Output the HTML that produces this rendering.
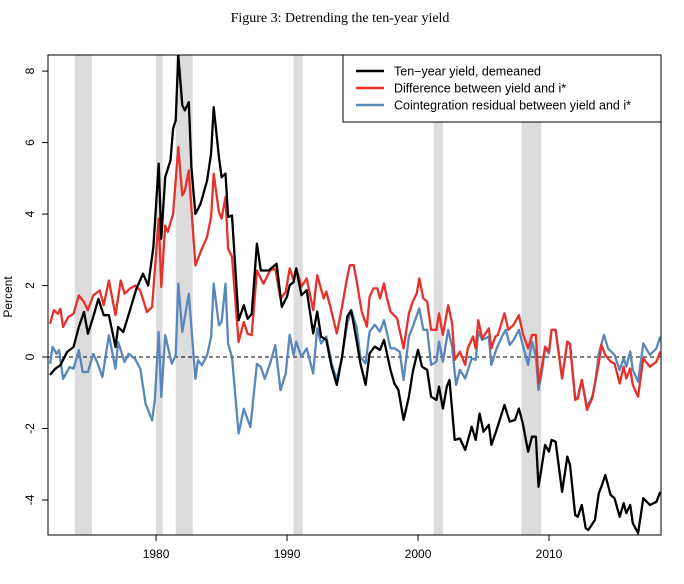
<!DOCTYPE html>
<html><head><meta charset="utf-8"><style>
body{margin:0;background:#fff;width:684px;height:579px;overflow:hidden}
svg text{font-family:"Liberation Sans",sans-serif}
</style></head><body>
<svg id="chart" width="684" height="579" xmlns="http://www.w3.org/2000/svg">
<text x="340" y="22" text-anchor="middle" font-size="14" style="font-family:'Liberation Serif',serif">Figure 3: Detrending the ten-year yield</text>
<text transform="translate(12,297) rotate(-90)" text-anchor="middle" font-size="12">Percent</text>
<defs><clipPath id="pc"><rect x="48" y="55" width="613" height="480"/></clipPath></defs>
<g id="rec" clip-path="url(#pc)"></g>
<g id="zero"></g>
<g id="lines" clip-path="url(#pc)"></g>
<rect x="48" y="55" width="613" height="480" fill="none" stroke="#000" stroke-width="1"/>
<g id="axes"></g>
<g>
<rect x="343" y="55" width="318" height="67" fill="#fff" stroke="#000" stroke-width="1"/>
<line x1="356" x2="384" y1="71" y2="71" stroke="#000" stroke-width="2.5"/>
<text x="394" y="75.5" font-size="12.5">Ten−year yield, demeaned</text>
<line x1="356" x2="384" y1="88" y2="88" stroke="#e8302a" stroke-width="2.5"/>
<text x="394" y="92.5" font-size="12.5">Difference between yield and i*</text>
<line x1="356" x2="384" y1="105" y2="105" stroke="#5a87bb" stroke-width="2.5"/>
<text x="394" y="109.5" font-size="12.5">Cointegration residual between yield and i*</text>
</g>
</svg>
<script>
const xTicks=[1980,1990,2000,2010];
const yTicks=[-4,-2,0,2,4,6,8];
const recStart=[1973.8,1980.0,1981.5,1990.5,2001.2,2007.9];
const recEnd=[1975.1,1980.5,1982.8,1991.2,2001.9,2009.4];
const blackYears=[1971.9,1972.3,1972.7,1973.2,1973.7,1974.1,1974.5,1974.8,1975.2,1975.6,1976.0,1976.4,1976.9,1977.1,1977.5,1978.0,1978.5,1979.0,1979.4,1979.8,1980.2,1980.4,1980.7,1981.1,1981.3,1981.5,1981.7,1982.0,1982.2,1982.5,1982.7,1983.0,1983.4,1983.9,1984.2,1984.4,1984.8,1985.0,1985.3,1985.5,1985.8,1986.3,1986.7,1987.0,1987.3,1987.7,1988.0,1988.6,1989.2,1989.6,1990.0,1990.2,1990.5,1990.7,1991.1,1991.5,1992.0,1992.3,1992.6,1993.0,1993.4,1993.8,1994.2,1994.6,1994.9,1995.3,1995.6,1996.0,1996.3,1996.7,1997.1,1997.4,1997.9,1998.2,1998.5,1998.9,1999.3,1999.6,2000.0,2000.3,2000.7,2001.0,2001.4,2001.6,2001.9,2002.2,2002.4,2002.8,2003.2,2003.6,2004.1,2004.4,2004.7,2005.0,2005.4,2005.6,2006.0,2006.6,2007.0,2007.4,2007.7,2008.0,2008.4,2008.7,2009.0,2009.2,2009.4,2009.7,2010.0,2010.2,2010.5,2011.0,2011.4,2011.6,2012.0,2012.2,2012.5,2012.8,2013.0,2013.5,2013.8,2014.0,2014.3,2014.7,2015.0,2015.4,2015.7,2015.9,2016.2,2016.4,2016.8,2017.2,2017.7,2018.2,2018.5];
const blackValues=[-0.5,-0.33,-0.23,0.14,0.28,0.84,1.26,0.65,1.12,1.63,1.17,1.17,0.28,0.84,0.7,1.3,1.91,2.33,2.0,3.08,5.41,3.31,5.03,5.5,6.39,6.62,8.44,7.04,6.9,7.13,5.31,4.0,4.29,4.94,5.69,6.99,5.6,5.03,5.13,3.92,3.96,1.03,1.45,1.07,1.21,3.17,2.42,2.42,2.61,1.4,1.69,2.01,2.1,2.48,1.73,1.87,0.66,1.27,0.57,0.48,-0.27,-0.78,0.01,1.13,1.31,0.48,-0.18,-0.78,0.1,0.29,0.2,0.48,-0.36,-0.74,-0.92,-1.76,-1.11,-0.41,0.2,-0.27,-0.36,-1.11,-1.2,-0.83,-1.44,-0.83,-0.64,-2.32,-2.28,-2.6,-1.95,-2.32,-1.58,-2.09,-1.9,-2.46,-2.04,-1.34,-1.81,-1.76,-1.44,-1.86,-2.65,-2.23,-2.23,-3.63,-3.16,-2.46,-2.65,-2.32,-2.37,-3.77,-2.79,-3.02,-4.42,-4.47,-4.14,-4.79,-4.84,-4.56,-3.81,-3.63,-3.3,-3.86,-3.95,-4.47,-4.09,-4.37,-4.14,-4.65,-4.93,-3.95,-4.14,-4.05,-3.77];
const redYears=[1971.9,1972.2,1972.5,1972.7,1972.9,1973.3,1973.7,1974.1,1974.5,1974.8,1975.2,1975.7,1976.0,1976.4,1976.9,1977.3,1977.6,1978.0,1978.4,1978.8,1979.3,1979.7,1980.2,1980.4,1980.7,1980.9,1981.3,1981.7,1982.0,1982.2,1982.5,1983.0,1983.4,1983.9,1984.2,1984.4,1984.8,1985.0,1985.3,1985.5,1985.8,1986.3,1986.7,1987.0,1987.3,1987.7,1988.2,1988.7,1989.1,1989.5,1989.9,1990.2,1990.5,1990.7,1991.1,1991.5,1992.0,1992.3,1992.8,1993.0,1993.3,1993.8,1994.2,1994.6,1994.8,1995.1,1995.3,1995.7,1996.1,1996.3,1996.6,1996.9,1997.1,1997.4,1997.6,1997.9,1998.4,1998.9,1999.3,1999.6,1999.9,2000.1,2000.4,2000.7,2001.0,2001.4,2001.6,2001.9,2002.3,2002.6,2002.8,2003.2,2003.6,2003.8,2004.2,2004.4,2004.6,2004.9,2005.4,2005.6,2005.9,2006.1,2006.4,2006.6,2006.9,2007.3,2007.7,2008.0,2008.4,2008.7,2009.0,2009.2,2009.4,2009.7,2010.0,2010.2,2010.5,2011.0,2011.4,2011.6,2012.0,2012.2,2012.5,2012.9,2013.3,2013.5,2013.8,2014.0,2014.3,2014.7,2015.0,2015.4,2015.7,2015.9,2016.2,2016.4,2016.8,2017.2,2017.7,2018.2,2018.5];
const redValues=[0.93,1.31,1.21,1.35,0.84,1.12,1.21,1.72,1.54,1.31,1.72,1.86,1.45,2.14,1.17,2.14,1.77,1.91,2.0,1.86,1.26,1.4,3.87,1.96,3.68,3.5,4.01,5.87,4.52,4.66,5.22,2.56,2.94,3.36,3.92,5.13,4.06,3.87,4.48,3.03,2.8,0.42,0.98,0.65,0.61,2.42,2.05,2.42,2.47,1.63,1.82,2.48,2.15,2.48,1.97,2.2,1.31,2.29,1.64,1.83,1.41,0.66,1.41,2.25,2.57,2.57,2.15,1.27,0.85,1.69,1.92,1.92,1.64,2.06,1.69,1.27,1.08,0.24,1.22,1.55,1.78,2.2,1.64,1.55,0.76,0.76,1.22,0.62,1.45,0.94,-0.08,0.15,-0.22,0.24,0.57,0.24,1.03,0.52,0.8,0.24,0.57,0.62,0.99,1.22,0.76,0.9,1.17,0.66,0.24,0.62,0.62,-0.74,-0.36,0.29,0.15,0.76,0.76,-0.6,0.43,0.34,-1.2,-1.16,-0.64,-1.48,-1.16,-0.74,-0.18,0.34,0.06,-0.13,-0.18,-0.74,-0.27,-0.6,-0.32,-0.78,-1.11,-0.04,-0.27,-0.13,0.15];
const blueYears=[1971.9,1972.1,1972.4,1972.6,1972.9,1973.4,1973.7,1974.1,1974.4,1974.8,1975.2,1975.5,1975.9,1976.4,1976.9,1977.1,1977.6,1977.9,1978.4,1978.8,1979.2,1979.7,1979.9,1980.2,1980.4,1980.7,1981.2,1981.5,1981.7,1982.0,1982.5,1983.0,1983.2,1983.5,1983.9,1984.2,1984.4,1984.8,1985.0,1985.3,1985.5,1985.8,1986.3,1986.7,1987.2,1987.7,1988.0,1988.3,1988.7,1989.1,1989.5,1989.9,1990.2,1990.5,1990.7,1991.1,1991.5,1992.0,1992.3,1992.6,1993.0,1993.4,1993.8,1994.2,1994.6,1994.9,1995.3,1995.6,1996.0,1996.3,1996.7,1997.1,1997.4,1997.9,1998.2,1998.6,1998.9,1999.3,1999.6,2000.1,2000.4,2000.7,2001.0,2001.4,2001.6,2001.9,2002.3,2002.6,2002.9,2003.2,2003.6,2004.1,2004.4,2004.6,2004.9,2005.4,2005.6,2006.0,2006.4,2006.7,2007.0,2007.3,2007.7,2008.0,2008.4,2008.7,2009.0,2009.2,2009.4,2009.7,2010.0,2010.2,2010.5,2011.0,2011.4,2011.6,2012.0,2012.2,2012.5,2012.9,2013.3,2013.5,2013.8,2014.2,2014.5,2015.0,2015.4,2015.7,2015.9,2016.2,2016.4,2016.8,2017.2,2017.7,2018.2,2018.5];
const blueValues=[-0.19,0.28,0.09,0.19,-0.61,-0.28,-0.33,0.19,-0.42,-0.42,0.09,-0.14,-0.56,0.61,-0.33,0.42,-0.14,0.09,-0.05,-0.33,-1.31,-1.77,-1.21,0.7,-1.12,0.61,-0.19,0.05,2.05,0.7,1.77,-0.61,-0.09,-0.23,0.05,0.56,2.05,0.89,0.98,2.05,0.37,0,-2.14,-1.45,-1.96,-0.19,-0.28,-0.61,-0.19,0.33,-0.93,-0.46,0.62,0.06,0.43,0.01,0.24,-0.46,0.8,0.38,0.57,-0.18,-0.64,0.01,0.94,1.31,0.85,0.01,-0.18,0.71,0.9,0.71,1.03,0.24,0.24,0.15,-0.64,0.57,0.85,1.36,0.76,0.76,-0.22,-0.13,0.43,-0.13,0.76,0.29,-0.78,-0.36,-0.6,-0.04,-0.08,0.71,0.48,0.57,-0.22,0.24,0.57,0.76,0.34,0.48,0.76,0.34,-0.22,0.43,0.01,-0.92,-0.55,0.24,0.1,0.76,0.76,-0.6,0.43,0.38,-1.16,-1.11,-0.64,-1.39,-1.11,-0.78,0.1,0.62,0.24,0.06,-0.36,-0.04,-0.27,0.15,-0.36,-0.69,0.38,0.06,0.24,0.57];

const NS='http://www.w3.org/2000/svg';
const X0=48,X1=661,Y0=55,Y1=535;
const xMin=1971.75,xMax=2018.55,yMin=-4.98,yMax=8.45;
function xs(v){return X0+(v-xMin)/(xMax-xMin)*(X1-X0);}
function ys(v){return Y1-(v-yMin)/(yMax-yMin)*(Y1-Y0);}
function mk(tag,attrs,parent){const e=document.createElementNS(NS,tag);for(const k in attrs)e.setAttribute(k,attrs[k]);parent.appendChild(e);return e;}

const rec=document.getElementById('rec');
recStart.forEach((s,i)=>{
  const r=mk('rect',{x:xs(s),y:Y0,width:xs(recEnd[i])-xs(s),height:Y1-Y0,fill:'#dcdcdc'},rec);
  
  
});
const z=mk('line',{x1:X0,x2:X1,y1:ys(0),y2:ys(0),stroke:'#000','stroke-width':1,'stroke-dasharray':'4,3'},document.getElementById('zero'));



const lines=document.getElementById('lines');
function series(xa,va,color,name){
  const d=xa.map((x,i)=>(i?'L':'M')+xs(x).toFixed(1)+','+ys(va[i]).toFixed(1)).join('');
  const p=mk('path',{d:d,fill:'none',stroke:color,'stroke-width':2.3,'stroke-linejoin':'round'},lines);
  
  
}
series(blueYears,blueValues,'#5a87bb','cointegration-residual-line');
series(redYears,redValues,'#e8302a','difference-line');
series(blackYears,blackValues,'#000','ten-year-yield-line');

const ax=document.getElementById('axes');
xTicks.forEach(t=>{
  mk('line',{x1:xs(t),x2:xs(t),y1:Y1,y2:Y1+6,stroke:'#000'},ax);
  const tx=mk('text',{x:xs(t),y:Y1+23,'text-anchor':'middle','font-size':12},ax);
  tx.textContent=t;
  
  
});
yTicks.forEach(t=>{
  mk('line',{x1:X0-6,x2:X0,y1:ys(t),y2:ys(t),stroke:'#000'},ax);
  const tx=mk('text',{transform:'translate(34,'+ys(t)+') rotate(-90)','text-anchor':'middle','font-size':12},ax);
  tx.textContent=t;
  
  
});
</script>
</body></html>
